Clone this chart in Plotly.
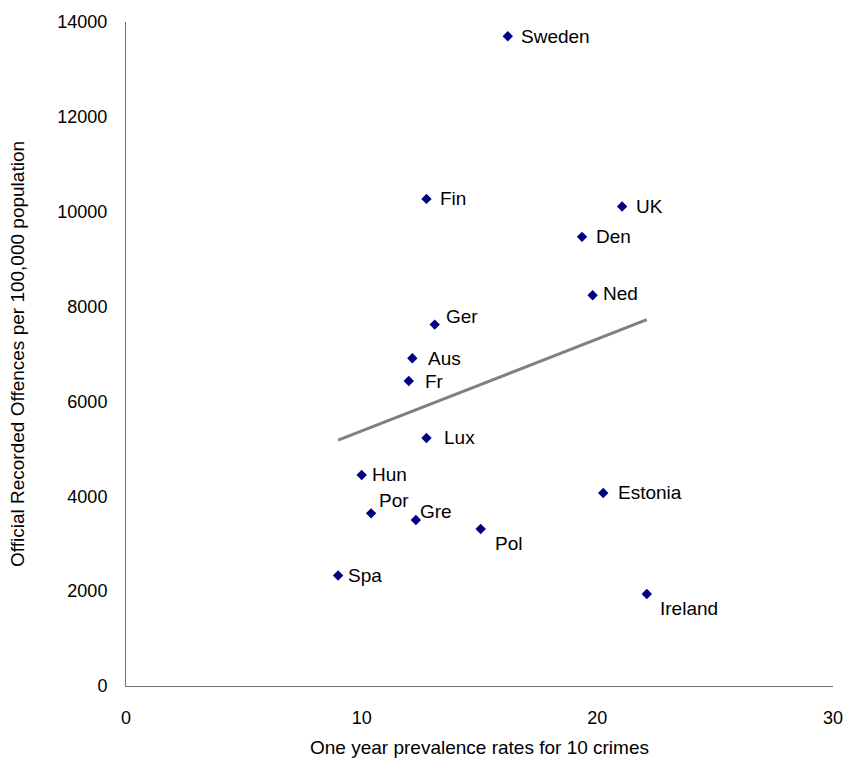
import numpy as np
import plotly.graph_objects as go

# one year prevalence rates vs recorded offences per 100,000
countries = ["Sweden", "Fin", "UK", "Den", "Ned", "Ger", "Aus", "Fr", "Lux",
             "Hun", "Estonia", "Por", "Gre", "Pol", "Spa", "Ireland"]
prevalence = [16.2, 12.75, 21.05, 19.35, 19.8, 13.1, 12.15, 12.0, 12.75,
              10.0, 20.25, 10.4, 12.3, 15.05, 9.0, 22.1]
offences = [13700, 10270, 10110, 9470, 8240, 7620, 6910, 6430, 5230,
            4450, 4070, 3640, 3500, 3310, 2330, 1940]

# label offsets in pixels (dx, dy) relative to each marker
label_shift = {
    "Sweden": (11, 0), "Fin": (12, 0), "UK": (12, 0), "Den": (12, 0),
    "Ned": (8, 2), "Ger": (9, 8), "Aus": (14, 0), "Fr": (14, 0),
    "Lux": (16, 0), "Hun": (8, 0), "Estonia": (13, 0), "Por": (6, 13),
    "Gre": (2, 9), "Pol": (12, -14), "Spa": (8, 0), "Ireland": (11, -15),
}

# linear trend (least squares) over the data range
slope, intercept = np.polyfit(prevalence, offences, 1)
trend_x = [min(prevalence), max(prevalence)]
trend_y = [slope * v + intercept for v in trend_x]

font = "Liberation Sans, Arial, sans-serif"

fig = go.Figure()
fig.add_trace(go.Scatter(
    x=trend_x, y=trend_y, mode="lines",
    line=dict(color="#808080", width=3),
    hoverinfo="skip",
))
fig.add_trace(go.Scatter(
    x=prevalence, y=offences, mode="markers",
    marker=dict(symbol="diamond", size=8, color="#000080"),
    text=countries,
))

for name, xv, yv in zip(countries, prevalence, offences):
    dx, dy = label_shift[name]
    fig.add_annotation(
        x=xv, y=yv, text=name, showarrow=False,
        xanchor="left", yanchor="middle",
        xshift=dx, yshift=dy,
        font=dict(family=font, size=19, color="black"),
    )

fig.update_layout(
    width=846, height=758,
    margin=dict(l=126, r=13, t=22, b=72),
    paper_bgcolor="white", plot_bgcolor="white",
    showlegend=False,
    font=dict(family=font, size=18, color="black"),
)
fig.update_xaxes(
    range=[0, 30], tickvals=[0, 10, 20, 30], tickformat="d",
    showgrid=False, zeroline=False, automargin=False,
    showline=True, linecolor="#707070", linewidth=1,
    ticks="", ticklabelstandoff=15,
    title=dict(text="One year prevalence rates for 10 crimes",
               font=dict(size=19), standoff=14),
)
fig.update_yaxes(
    range=[0, 14000], tickvals=list(range(0, 14001, 2000)), tickformat="d",
    showgrid=False, zeroline=False, automargin=False,
    showline=True, linecolor="#707070", linewidth=1,
    ticks="", ticklabelstandoff=14,
    title=dict(text="Official Recorded Offences per 100,000 population",
               font=dict(size=19), standoff=27),
)

# drop the default page margin so the figure sits at the window corner
fig.write_html("out.html", config={"displayModeBar": False},
               post_script="document.body.style.margin='0';")
